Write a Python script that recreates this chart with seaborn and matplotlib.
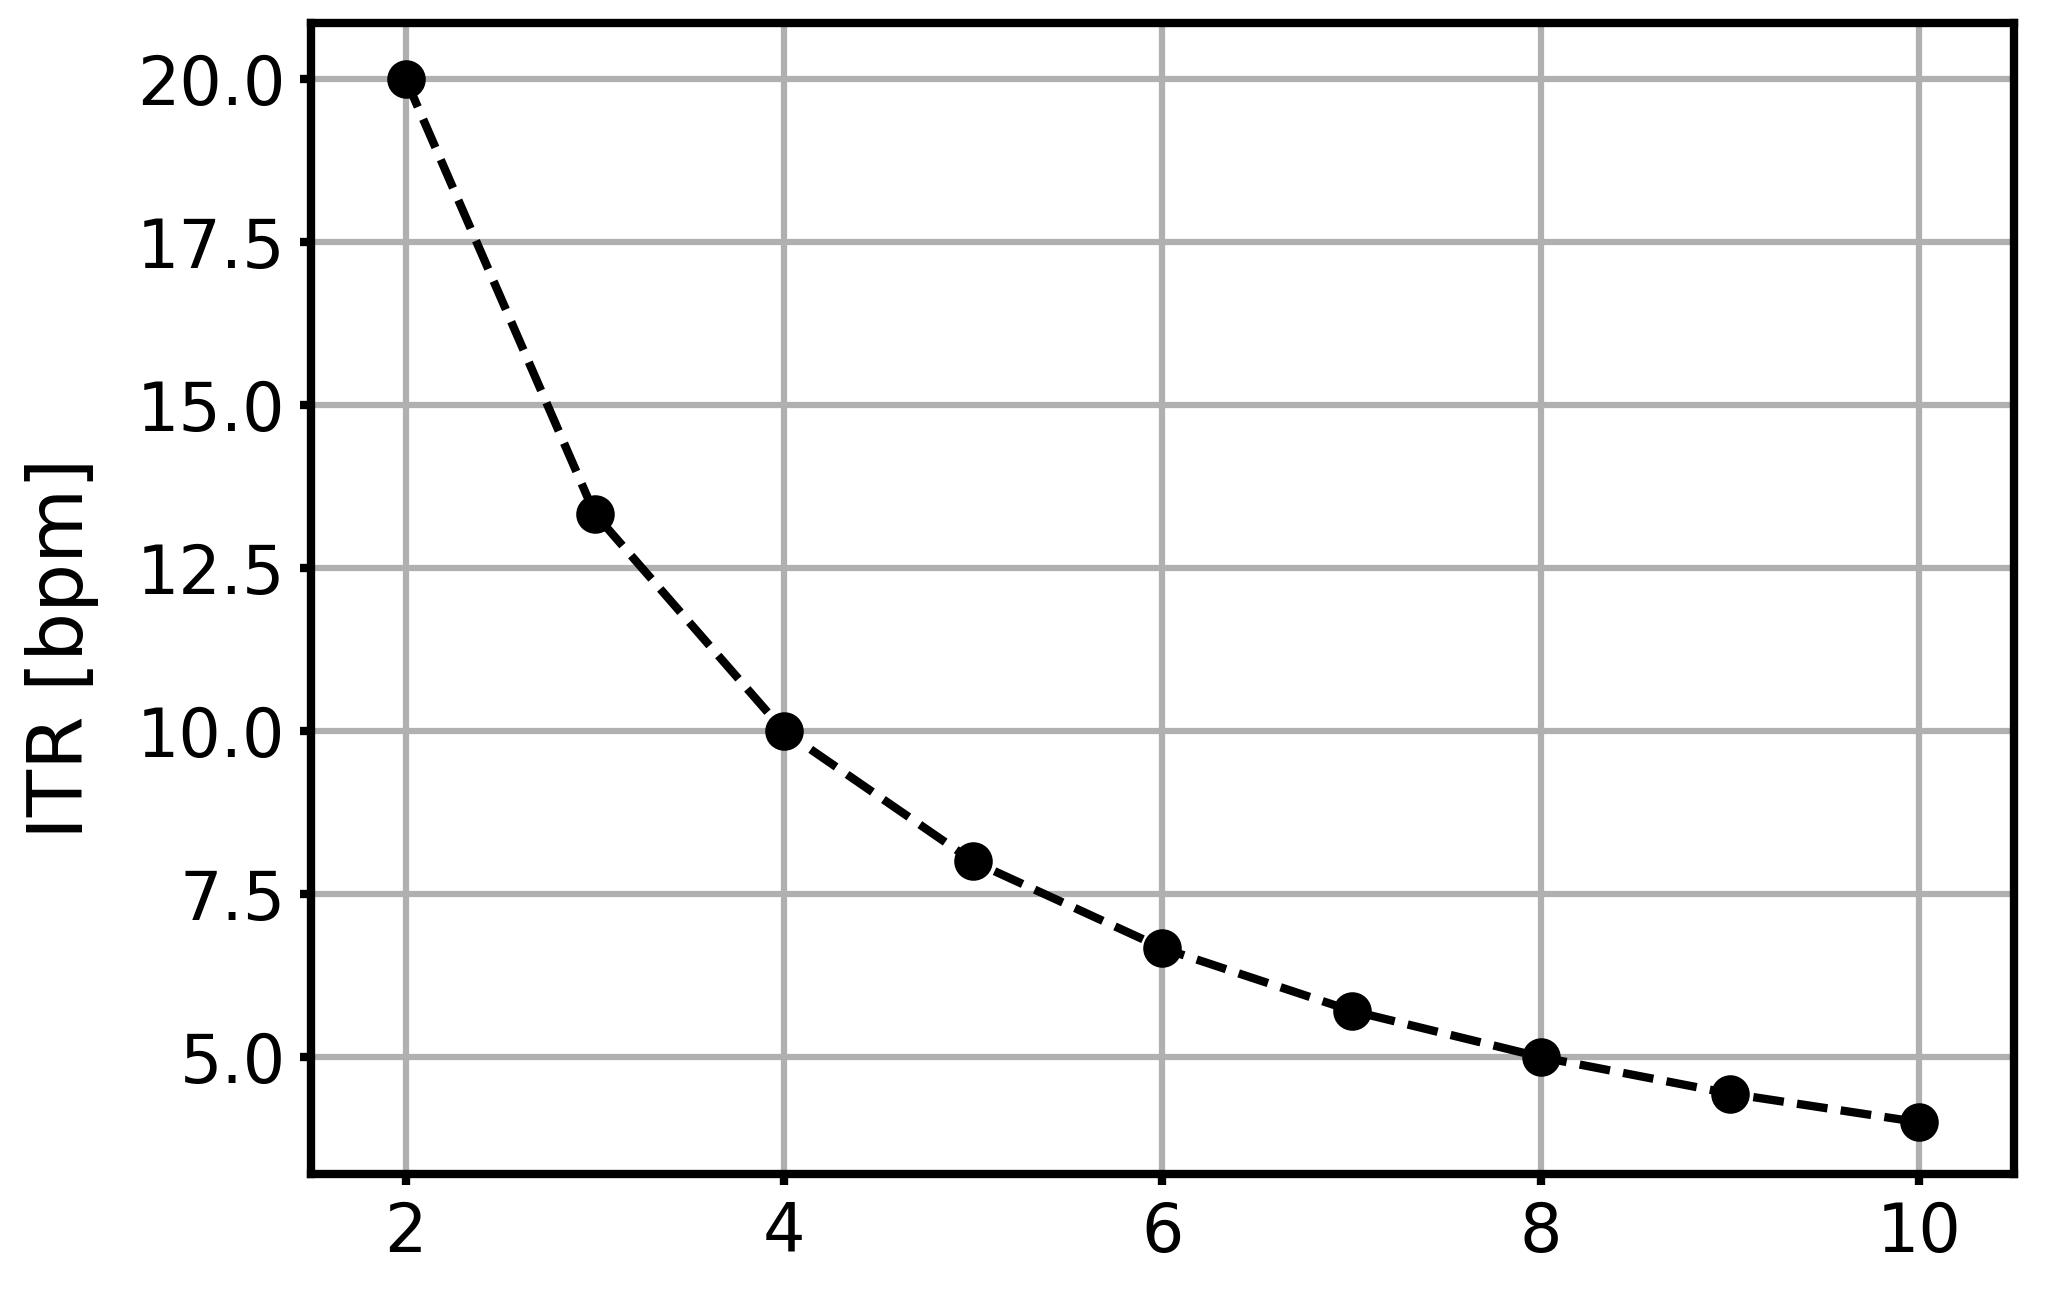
import matplotlib
matplotlib.use("Agg")
import matplotlib.pyplot as plt
import seaborn as sns
import pandas as pd

# --- données ---
n_classes = [2, 3, 4, 5, 6, 7, 8, 9, 10]
itr_bpm = [20.0, 13.33, 10.0, 8.0, 6.67, 5.71, 5.0, 4.44, 4.0]

df = pd.DataFrame({"n": n_classes, "itr": itr_bpm})

sns.set_style("white")
plt.rcParams['font.family'] = ['DejaVu Sans']

fig = plt.figure(figsize=(2059 / 300, 1292 / 300), dpi=300)
ax = fig.add_axes([0.151, 0.091, 0.827, 0.891])

sns.lineplot(data=df, x="n", y="itr", ax=ax, color="black", linestyle="--",
             linewidth=2, marker="o", markersize=8.5, markeredgecolor="black")

ax.grid(True, color="#b0b0b0", linewidth=1.5)
ax.set_axisbelow(True)
for s in ax.spines.values():
    s.set_color("black")
    s.set_linewidth(2)
ax.tick_params(axis="both", labelsize=16, length=2.6, width=2, color="black",
               left=True, bottom=True, labelcolor="black")
ax.set_xlabel("")
ax.set_ylabel("ITR [bpm]", fontsize=18.5, color="black", labelpad=9)
ax.yaxis.label.set_y(0.457)
ax.set_xticks([2, 4, 6, 8, 10])
ax.set_yticks([5.0, 7.5, 10.0, 12.5, 15.0, 17.5, 20.0])
ax.set_xlim(1.5, 10.5)
ax.set_ylim(3.2, 20.85)

fig.savefig("out.png", dpi=300)
